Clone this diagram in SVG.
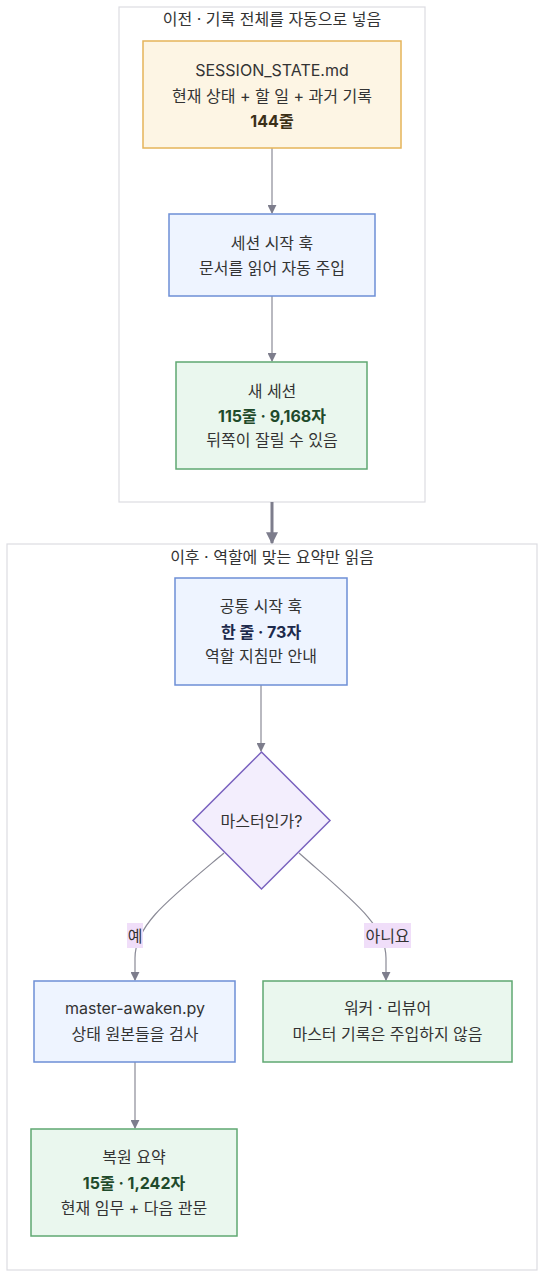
<svg xmlns="http://www.w3.org/2000/svg" width="545" height="1278" viewBox="0 0 545 1278">
<defs>
<style>
text{font-family:"Inter","Noto Sans CJK KR","Noto Sans",sans-serif;font-size:16px;fill:#333;text-anchor:middle;dominant-baseline:central}
.b{font-weight:bold}
.cl{fill:#ffffff;stroke:#dcdce2;stroke-width:1.2}
.orange{fill:#fdf5e4;stroke:#e5b45a;stroke-width:1.5}
.blue{fill:#eef4ff;stroke:#6d8fd6;stroke-width:1.5}
.green{fill:#eaf7ee;stroke:#5fa872;stroke-width:1.5}
.dia{fill:#f3eefd;stroke:#7a62bf;stroke-width:1.5}
.e{fill:none;stroke:#8a8a96;stroke-width:1.2}
.lbl{fill:#f0def9}
.ob{fill:#3b2f17}
.gb{fill:#1f4a2b}
.bb{fill:#1d2a4c}
</style>
<marker id="ar" viewBox="0 0 10 10" refX="9" refY="5" markerWidth="9" markerHeight="9" markerUnits="userSpaceOnUse" orient="auto">
<path d="M0,0 L10,5 L0,10 z" fill="#7d7d8c"/>
</marker>
<marker id="arb" viewBox="0 0 10 10" refX="9" refY="5" markerWidth="12" markerHeight="12" markerUnits="userSpaceOnUse" orient="auto">
<path d="M0,0 L10,5 L0,10 z" fill="#7d7d8c"/>
</marker>
</defs>

<g id="cluster-before">
<rect class="cl" x="119" y="7" width="306" height="495"/>
<text x="272" y="19">이전 · 기록 전체를 자동으로 넣음</text>
</g>
<g id="cluster-after">
<rect class="cl" x="7" y="544" width="530" height="726"/>
<text x="272" y="557">이후 · 역할에 맞는 요약만 읽음</text>
</g>

<g id="connectors">
<path class="e" d="M272,148 L272,213" marker-end="url(#ar)"/>
<path class="e" d="M272,296 L272,361" marker-end="url(#ar)"/>
<path d="M272,502 L272,543" fill="none" stroke="#7d7d8c" stroke-width="3" marker-end="url(#arb)"/>
<path class="e" d="M261,685 L261,751" marker-end="url(#ar)"/>
<path class="e" d="M224,853 C168,900 135,925 135,958 L135,980" marker-end="url(#ar)"/>
<path class="e" d="M299,853 C352,900 386,925 386,958 L386,980" marker-end="url(#ar)"/>
<path class="e" d="M135,1062 L135,1128" marker-end="url(#ar)"/>
<rect class="lbl" x="127" y="923" width="16" height="25"/>
<text x="135" y="935.5">예</text>
<rect class="lbl" x="364" y="923" width="47" height="25"/>
<text x="387.5" y="935.5">아니요</text>
</g>

<g id="node-session-state">
<rect class="orange" x="143" y="41" width="258" height="107"/>
<text x="272" y="70">SESSION_STATE.md</text>
<text x="272" y="96">현재 상태 + 할 일 + 과거 기록</text>
<text x="272" y="121" class="b ob">144줄</text>
</g>

<g id="node-session-hook">
<rect class="blue" x="169" y="214" width="206" height="82"/>
<text x="272" y="243">세션 시작 훅</text>
<text x="272" y="268">문서를 읽어 자동 주입</text>
</g>

<g id="node-new-session">
<rect class="green" x="176" y="362" width="191" height="107"/>
<text x="272" y="391">새 세션</text>
<text x="272" y="416" class="b gb">115줄 · 9,168자</text>
<text x="272" y="440">뒤쪽이 잘릴 수 있음</text>
</g>

<g id="node-common-hook">
<rect class="blue" x="175" y="578" width="172" height="107"/>
<text x="261" y="606">공통 시작 훅</text>
<text x="261" y="632" class="b bb">한 줄 · 73자</text>
<text x="261" y="656">역할 지침만 안내</text>
</g>

<g id="node-is-master">
<polygon class="dia" points="261.5,752 330,820.5 261.5,889 193,820.5"/>
<text x="261.5" y="820.5">마스터인가?</text>
</g>

<g id="node-master-awaken">
<rect class="blue" x="34" y="981" width="201" height="81"/>
<text x="135" y="1008">master-awaken.py</text>
<text x="135" y="1034">상태 원본들을 검사</text>
</g>

<g id="node-worker">
<rect class="green" x="263" y="981" width="249" height="81"/>
<text x="387.5" y="1008">워커 · 리뷰어</text>
<text x="387.5" y="1034">마스터 기록은 주입하지 않음</text>
</g>

<g id="node-summary">
<rect class="green" x="31" y="1129" width="206" height="107"/>
<text x="134" y="1157">복원 요약</text>
<text x="134" y="1183" class="b gb">15줄 · 1,242자</text>
<text x="134" y="1208">현재 임무 + 다음 관문</text>
</g>
</svg>
